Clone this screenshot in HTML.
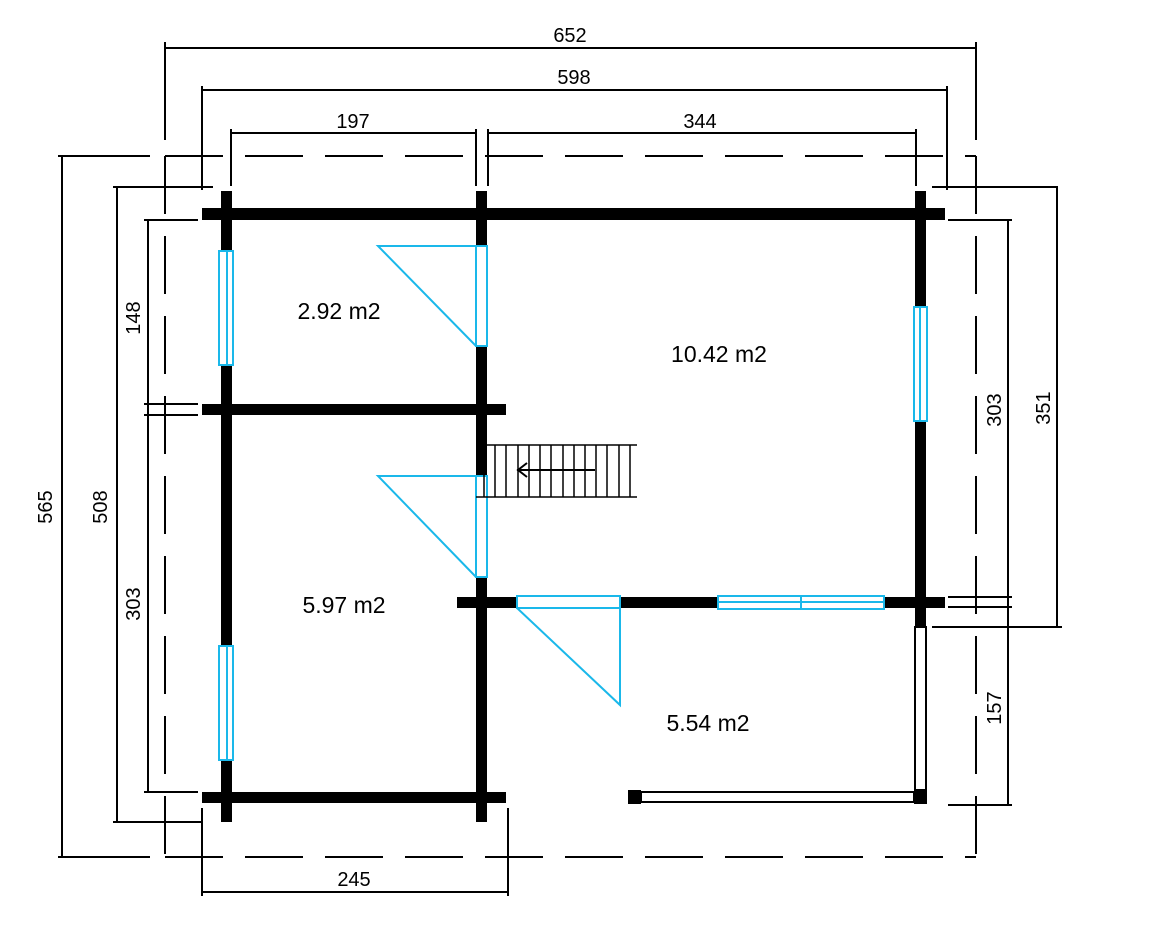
<!DOCTYPE html>
<html><head><meta charset="utf-8"><style>
html,body{margin:0;padding:0;background:#fff;}
svg{display:block;font-family:"Liberation Sans",sans-serif;}
</style></head><body>
<svg width="1166" height="936" viewBox="0 0 1166 936" xmlns="http://www.w3.org/2000/svg">
<g stroke="#000" stroke-width="2" fill="none">
<g stroke-dasharray="58 22">
<line x1="165" y1="156" x2="976" y2="156"/>
<line x1="165" y1="857" x2="976" y2="857"/>
<line x1="165" y1="156" x2="165" y2="857"/>
<line x1="976" y1="156" x2="976" y2="857"/>
</g>
<line x1="165" y1="48" x2="976" y2="48"/>
<line x1="165" y1="42" x2="165" y2="140"/>
<line x1="976" y1="42" x2="976" y2="140"/>
<line x1="202" y1="90" x2="947" y2="90"/>
<line x1="202" y1="86" x2="202" y2="190"/>
<line x1="947" y1="86" x2="947" y2="190"/>
<line x1="231" y1="133" x2="476" y2="133"/>
<line x1="488" y1="133" x2="916" y2="133"/>
<line x1="231" y1="129" x2="231" y2="186"/>
<line x1="476" y1="129" x2="476" y2="186"/>
<line x1="488" y1="129" x2="488" y2="186"/>
<line x1="916" y1="129" x2="916" y2="186"/>
<line x1="62" y1="156" x2="62" y2="857"/>
<line x1="58" y1="156" x2="150" y2="156"/>
<line x1="58" y1="857" x2="150" y2="857"/>
<line x1="117" y1="187" x2="117" y2="822"/>
<line x1="113" y1="187" x2="213" y2="187"/>
<line x1="113" y1="822" x2="202" y2="822"/>
<line x1="148" y1="220" x2="148" y2="792"/>
<line x1="144" y1="220" x2="198" y2="220"/>
<line x1="144" y1="404" x2="198" y2="404"/>
<line x1="144" y1="415" x2="198" y2="415"/>
<line x1="144" y1="792" x2="198" y2="792"/>
<line x1="932" y1="187" x2="1058" y2="187"/>
<line x1="1057" y1="187" x2="1057" y2="627"/>
<line x1="932" y1="627" x2="1062" y2="627"/>
<line x1="948" y1="220" x2="1012" y2="220"/>
<line x1="1008" y1="220" x2="1008" y2="805"/>
<line x1="948" y1="597" x2="1012" y2="597"/>
<line x1="948" y1="607" x2="1012" y2="607"/>
<line x1="948" y1="805" x2="1012" y2="805"/>
<line x1="202" y1="892" x2="508" y2="892"/>
<line x1="202" y1="808" x2="202" y2="896"/>
<line x1="508" y1="808" x2="508" y2="896"/>
</g>
<g fill="#000">
<rect x="202" y="208" width="743" height="12"/>
<rect x="221" y="191" width="11" height="631"/>
<rect x="476" y="191" width="11" height="631"/>
<rect x="915" y="191" width="11" height="436"/>
<rect x="202" y="404" width="304" height="11"/>
<rect x="457" y="597" width="488" height="11"/>
<rect x="202" y="792" width="304" height="11"/>
<rect x="628" y="790" width="13" height="14"/>
<rect x="914" y="790" width="13" height="14"/>
</g>
<g fill="#fff" stroke="#000" stroke-width="2">
<rect x="641" y="792" width="273" height="10"/>
<rect x="915" y="627" width="11" height="163"/>
</g>
<g stroke="#1ab8ea" stroke-width="2" fill="#fff">
<rect x="219" y="251" width="14" height="114"/>
<line x1="227" y1="251" x2="227" y2="365"/>
<rect x="219" y="646" width="14" height="114"/>
<line x1="227" y1="646" x2="227" y2="760"/>
<rect x="914" y="307" width="13" height="114"/>
<line x1="920" y1="307" x2="920" y2="421"/>
<rect x="476" y="246" width="11" height="100"/>
<rect x="476" y="476" width="11" height="101"/>
<rect x="517" y="596" width="103" height="12"/>
<rect x="718" y="596" width="166" height="13"/>
<line x1="718" y1="602" x2="884" y2="602"/>
<line x1="801" y1="596" x2="801" y2="609"/>
<polyline fill="none" points="476,246 378,246 476,346"/>
<polyline fill="none" points="476,476 378,476 476,577"/>
<polyline fill="none" points="517,608 620,705 620,608"/>
</g>
<g stroke="#000" stroke-width="1.5" fill="none">
<line x1="476" y1="445" x2="637" y2="445"/>
<line x1="476" y1="497" x2="637" y2="497"/>
<path d="M484 445V497M495 445V497M506 445V497M518 445V497M529 445V497M540 445V497M551 445V497M563 445V497M574 445V497M585 445V497M596 445V497M607 445V497M619 445V497M630 445V497"/>
<line x1="517" y1="470" x2="595" y2="470" stroke-width="2"/>
<polyline points="527,463 518,470 527,477" stroke-width="2"/>
</g>
<g font-size="20" fill="#000" text-anchor="middle">
<text x="570" y="42">652</text>
<text x="574" y="84">598</text>
<text x="353" y="128">197</text>
<text x="700" y="128">344</text>
<text x="354" y="886">245</text>
<text transform="translate(52,507) rotate(-90)">565</text>
<text transform="translate(107,507) rotate(-90)">508</text>
<text transform="translate(140,318) rotate(-90)">148</text>
<text transform="translate(140,604) rotate(-90)">303</text>
<text transform="translate(1001,410) rotate(-90)">303</text>
<text transform="translate(1050,408) rotate(-90)">351</text>
<text transform="translate(1001,708) rotate(-90)">157</text>
</g>
<g font-size="23" fill="#000" text-anchor="middle">
<text x="339" y="319">2.92 m2</text>
<text x="719" y="362">10.42 m2</text>
<text x="344" y="613">5.97 m2</text>
<text x="708" y="731">5.54 m2</text>
</g>
</svg>
</body></html>
